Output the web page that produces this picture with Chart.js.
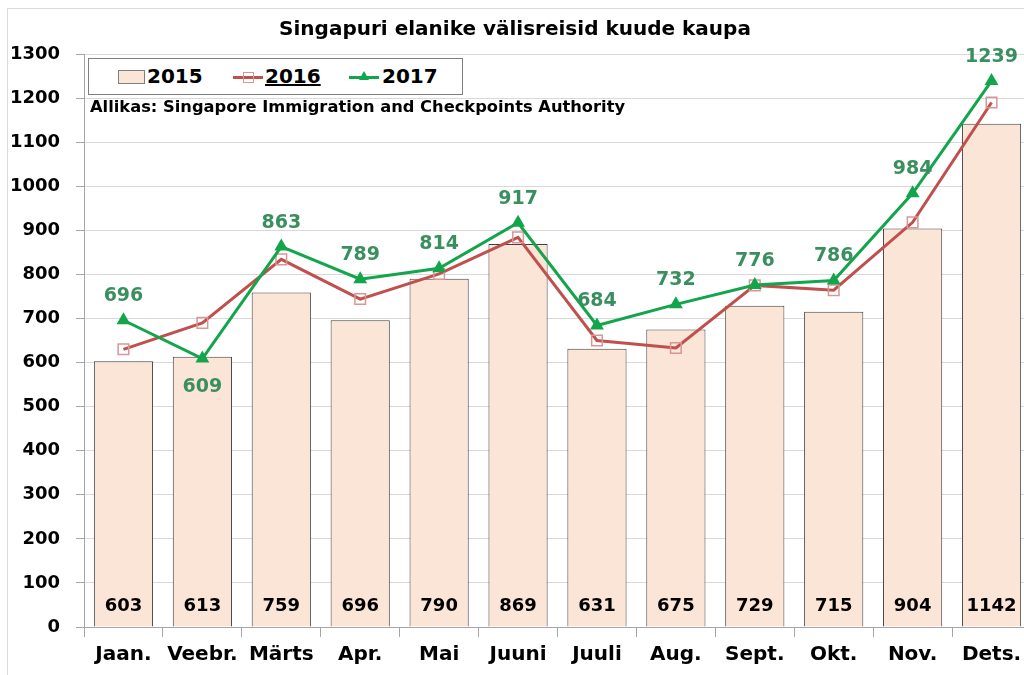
<!DOCTYPE html>
<html><head><meta charset="utf-8">
<script src="https://cdn.jsdelivr.net/npm/chart.js@4"></script>
<style>
html,body{margin:0;padding:0;width:1024px;height:675px;overflow:hidden;background:#fff;}
#frame{position:absolute;left:7px;top:8px;width:1100px;height:700px;border:1px solid #D9D9D9;}
#wrap{position:absolute;left:0;top:0;width:1040px;height:675px;}
.t{position:absolute;font-family:"DejaVu Sans";font-weight:bold;white-space:nowrap;color:#000;}
#legend{position:absolute;left:88px;top:58px;width:375px;height:37px;box-sizing:border-box;border:1px solid #7F7F7F;background:#fff;}
</style></head>
<body>
<div id="frame"></div>
<div id="wrap"><canvas id="c" width="1040" height="675"></canvas></div>
<div class="t" id="title" style="left:0;width:1030px;text-align:center;top:18px;font-size:20px;line-height:20px;">Singapuri elanike välisreisid kuude kaupa</div>
<div id="legend"></div>
<div style="position:absolute;left:118px;top:70px;width:27px;height:14px;box-sizing:border-box;background:#FBE5D6;border:1px solid #7F7F7F;"></div>
<div class="t" style="left:147px;top:66px;font-size:20px;line-height:20px;" id="lg0"></div>
<div style="position:absolute;left:233px;top:76px;width:30px;height:3px;background:#C0504D;"></div>
<div style="position:absolute;left:243px;top:72px;width:11px;height:11px;box-sizing:border-box;border:1.5px solid #D99694;"></div>
<div class="t" style="left:265px;top:66px;font-size:20px;line-height:20px;text-decoration:underline;" id="lg1"></div>
<div style="position:absolute;left:349px;top:76px;width:30px;height:3px;background:#13A54B;"></div>
<div style="position:absolute;left:359px;top:71px;width:0;height:0;border-left:5px solid transparent;border-right:5px solid transparent;border-bottom:9px solid #13A54B;"></div>
<div class="t" style="left:382px;top:66px;font-size:20px;line-height:20px;" id="lg2"></div>
<div class="t" id="src" style="left:90px;top:99px;font-size:16.3px;line-height:16px;">Allikas: Singapore Immigration and Checkpoints Authority</div>
<script>
const months = ["Jaan.","Veebr.","Märts","Apr.","Mai","Juuni","Juuli","Aug.","Sept.","Okt.","Nov.","Dets."];
const seriesNames = ["2015","2016","2017"];
const v2015 = [603,613,759,696,790,869,631,675,729,715,904,1142];
const v2016 = [630,690,834,744,801,884,650,633,775,764,918,1190];
const v2017 = [696,609,863,789,814,917,684,732,776,786,984,1239];
const yTicks = {min:0, max:1300, step:100};

document.getElementById('lg0').textContent = seriesNames[0];
document.getElementById('lg1').textContent = seriesNames[1];
document.getElementById('lg2').textContent = seriesNames[2];

const FONT = 'DejaVu Sans';
const labelPlugin = {
  id:'vals',
  afterDatasetsDraw(chart){
    const ctx = chart.ctx;
    const y0 = chart.scales.y.getPixelForValue(0);
    ctx.save();
    ctx.textAlign='center'; ctx.textBaseline='middle';
    ctx.font = 'bold 18px "'+FONT+'"'; ctx.fillStyle='#000';
    chart.getDatasetMeta(0).data.forEach((b,i)=>ctx.fillText(String(v2015[i]), b.x, y0-21));
    ctx.font = 'bold 19px "'+FONT+'"'; ctx.fillStyle='#3A8F5F';
    chart.getDatasetMeta(2).data.forEach((p,i)=>{
      const below = v2017[i] < v2016[i];
      ctx.fillText(String(v2017[i]), p.x, p.y + (below ? 28 : -24));
    });
    ctx.restore();
  }
};

new Chart(document.getElementById('c'), {
  type:'bar',
  data:{
    labels: months,
    datasets:[
      {type:'bar', label:seriesNames[0], data:v2015, backgroundColor:'#FBE5D6', borderColor:'#404040', borderWidth:1, barPercentage:0.75, categoryPercentage:1, order:3},
      {type:'line', label:seriesNames[1], data:v2016, borderColor:'#C0504D', borderWidth:3, tension:0, pointStyle:'rect', pointRadius:7.5, pointBorderColor:'#D99694', pointBackgroundColor:'rgba(0,0,0,0)', pointBorderWidth:1.5, order:2},
      {type:'line', label:seriesNames[2], data:v2017, borderColor:'#13A54B', borderWidth:3, tension:0, pointStyle:'triangle', pointRadius:5, pointBorderColor:'#13A54B', pointBackgroundColor:'#13A54B', order:1}
    ]
  },
  options:{
    responsive:false, animation:false, devicePixelRatio:1,
    layout:{padding:{top:54,right:7,left:0,bottom:0}},
    plugins:{legend:{display:false}, tooltip:{enabled:false}, title:{display:false}},
    scales:{
      x:{offset:true,
         grid:{offset:true, drawOnChartArea:false, drawTicks:true, tickLength:10, color:'#A6A6A6'},
         border:{color:'#A6A6A6', width:1},
         ticks:{font:{family:FONT, weight:'bold', size:20}, color:'#000', padding:6, maxRotation:0, autoSkip:false},
         afterFit(s){ s.height = 48; }},
      y:{min:yTicks.min, max:yTicks.max,
         ticks:{stepSize:yTicks.step, font:{family:FONT, weight:'bold', size:18}, color:'#000', padding:16, callback:(v)=>String(v)},
         grid:{color:'#D9D9D9', tickLength:8, tickColor:'#A6A6A6'},
         border:{color:'#A6A6A6', width:1},
         afterFit(s){ s.width = 84; }}
    }
  },
  plugins:[labelPlugin]
});
</script>
</body></html>
